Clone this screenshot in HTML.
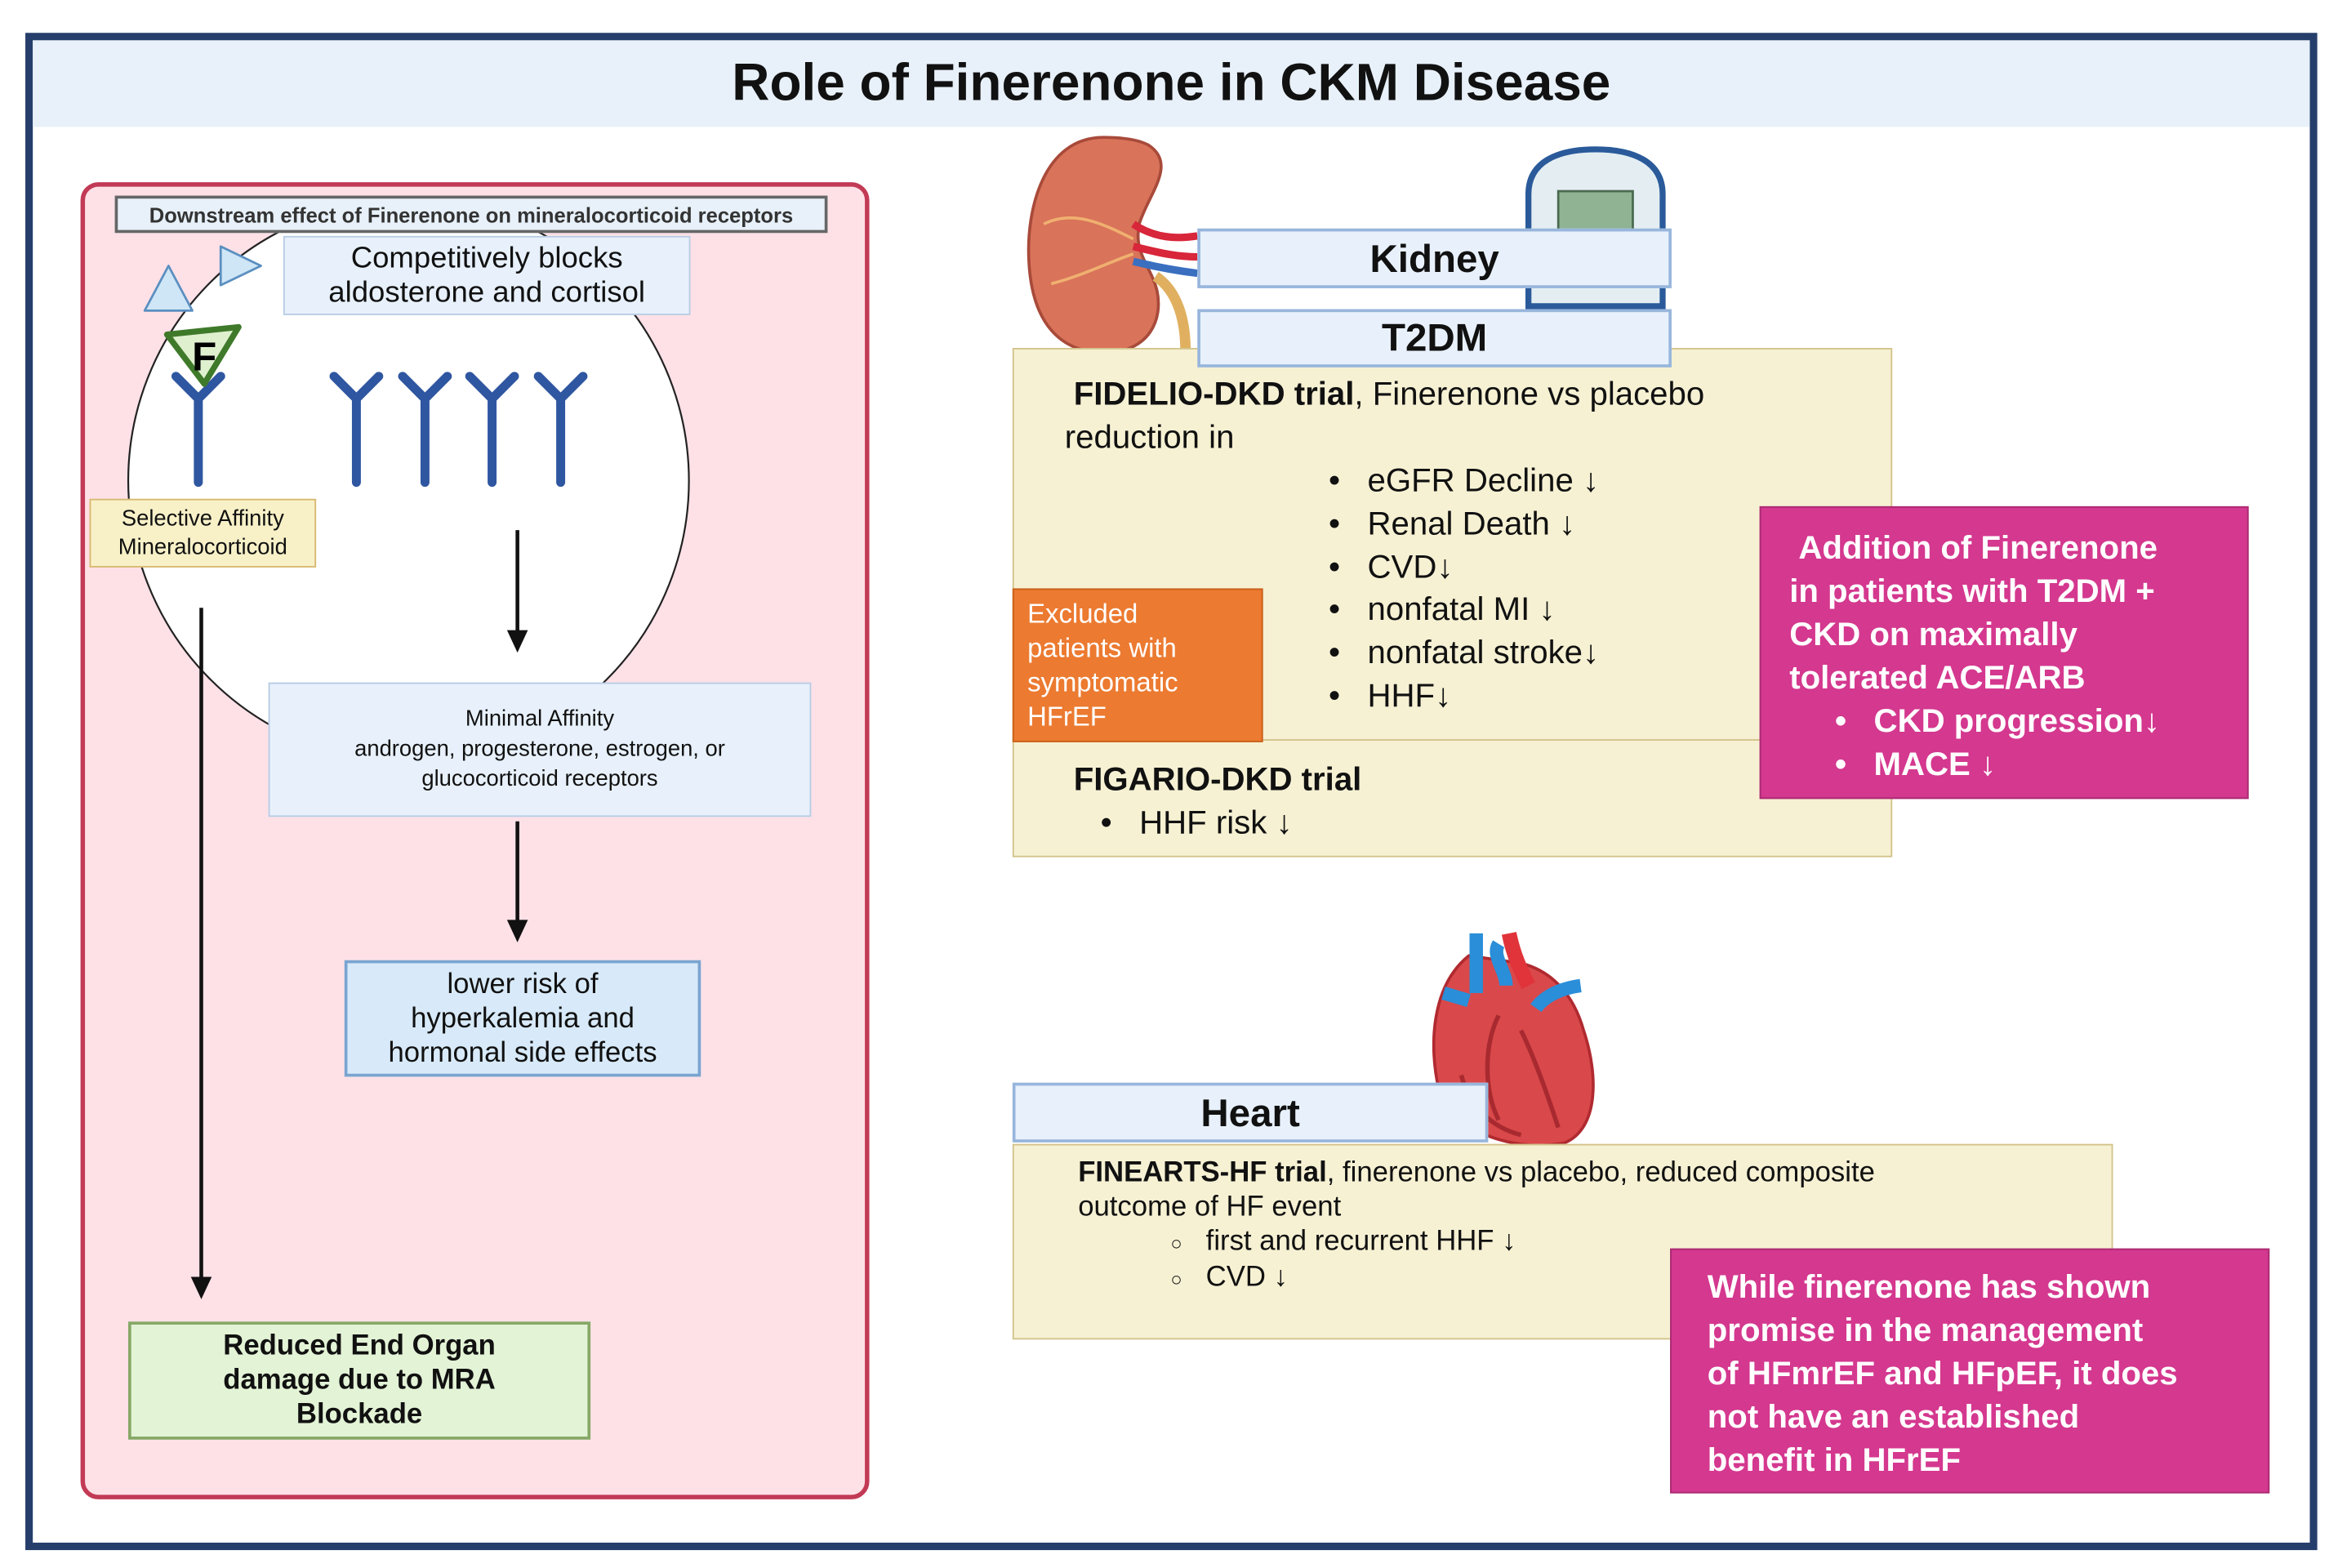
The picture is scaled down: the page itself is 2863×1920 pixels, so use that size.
<!DOCTYPE html>
<html><head><meta charset="utf-8"><style>
html,body{margin:0;padding:0;background:#fff;}
body{width:2863px;height:1920px;overflow:hidden;position:relative;}
#s{position:absolute;left:0;top:0;width:1568px;height:1050px;transform:scale(1.826,1.8286);transform-origin:0 0;font-family:"Liberation Sans",sans-serif;color:#111;}
.a{position:absolute;box-sizing:border-box;}
.c{display:flex;align-items:center;justify-content:center;text-align:center;}
.t{white-space:nowrap;position:absolute;}
</style></head><body><div id="s">
<div class="a" style="left:17px;top:22px;width:1537px;height:1016px;border:5px solid #263e6b;background:#fff"></div>
<div class="a c" style="left:22px;top:27px;width:1527px;height:58px;background:#e8f1fa;font-weight:bold;font-size:35px">Role of Finerenone in CKM Disease</div>

<div class="a" style="left:54px;top:122px;width:529px;height:882px;background:#fde1e7;border:3px solid #c23a55;border-radius:12px"></div>
<svg class="a" style="left:0;top:0" width="1568" height="1050">
<circle cx="274" cy="322" r="188" fill="#fff" stroke="#222" stroke-width="1.2"/>
<polygon points="113,178 97,208 129,208" fill="#cfe6f7" stroke="#5b8fc0" stroke-width="1.5" stroke-linejoin="round"/>
<polygon points="148,165 148,191 175,178" fill="#cfe6f7" stroke="#5b8fc0" stroke-width="1.5" stroke-linejoin="round"/>
<g stroke="#2f56a0" stroke-width="6" fill="none" stroke-linecap="round" stroke-linejoin="round">
<path d="M118,252 L133,267 L148,252 M133,267 V323"/>
<path d="M224,252 L239,267 L254,252 M239,267 V323"/>
<path d="M270,252 L285,267 L300,252 M285,267 V323"/>
<path d="M315,252 L330,267 L345,252 M330,267 V323"/>
<path d="M361,252 L376,267 L391,252 M376,267 V323"/>
</g>
<polygon points="112,224 160,219 137,257" fill="#dff0cf" stroke="#3f7a2a" stroke-width="4" stroke-linejoin="round"/>
<text x="137" y="248" font-size="27" font-weight="bold" text-anchor="middle" font-family="Liberation Sans">F</text>
<g stroke="#111" stroke-width="2.5"><line x1="347" y1="355" x2="347" y2="425"/><line x1="347" y1="550" x2="347" y2="618"/><line x1="135" y1="407" x2="135" y2="858"/></g>
<g fill="#111"><polygon points="340,422 354,422 347,437"/><polygon points="340,616 354,616 347,631"/><polygon points="128,855 142,855 135,870"/></g>
</svg>
<div class="a c" style="left:77px;top:131px;width:478px;height:25px;background:#e8f1fa;border:2px solid #666;font-size:14px;font-weight:bold;color:#333">Downstream effect of Finerenone on mineralocorticoid receptors</div>
<div class="a c" style="left:190px;top:158px;width:273px;height:53px;background:#e8f1fb;border:1.5px solid #b8cce4;font-size:20px;line-height:23px">Competitively blocks<br>aldosterone and cortisol</div>
<div class="a c" style="left:60px;top:334px;width:152px;height:46px;background:#f8f1c8;border:1.5px solid #d8b870;font-size:15px;line-height:19px">Selective Affinity<br>Mineralocorticoid</div>
<div class="a c" style="left:180px;top:457px;width:364px;height:90px;background:#e8f1fb;border:1.5px solid #b8cce4;font-size:15px;line-height:20px">Minimal Affinity<br>androgen, progesterone, estrogen, or<br>glucocorticoid receptors</div>
<div class="a c" style="left:231px;top:643px;width:239px;height:78px;background:#d8eaf9;border:2px solid #7aa4d0;font-size:19px;line-height:23px">lower risk of<br>hyperkalemia and<br>hormonal side effects</div>
<div class="a c" style="left:86px;top:885px;width:310px;height:79px;background:#e3f3d6;border:2px solid #86a866;font-size:19px;line-height:23px;font-weight:bold">Reduced End Organ<br>damage due to MRA<br>Blockade</div>

<svg class="a" style="left:0;top:0" width="1568" height="1050">
<path d="M740,92 C700,92 688,140 690,175 C692,215 710,238 745,236 C770,234 780,215 776,195 C772,178 760,170 764,150 C770,130 790,110 770,97 C762,93 750,92 740,92Z" fill="#d9735a" stroke="#a84a3a" stroke-width="2"/>
<path d="M700,150 C720,140 740,150 760,160 M705,190 C725,185 745,175 760,170" stroke="#f0b070" stroke-width="2" fill="none"/>
<path d="M760,150 C775,160 790,160 803,158 M760,165 C780,170 790,172 803,172" stroke="#d8263a" stroke-width="5" fill="none"/>
<path d="M760,175 C780,180 795,182 803,183" stroke="#3a6fc0" stroke-width="5" fill="none"/>
<path d="M775,185 C790,195 795,215 795,235" stroke="#e0b060" stroke-width="7" fill="none"/>
<path d="M1025,205 V130 C1025,108 1045,100 1070,100 C1095,100 1115,108 1115,130 V205Z" fill="#e4eef2" stroke="#2a5a9a" stroke-width="4"/>
<rect x="1045" y="128" width="50" height="28" fill="#8fb393" stroke="#4a6a50" stroke-width="1.5"/>
<path d="M985,640 C960,660 958,700 965,730 C975,760 1020,772 1050,765 C1072,755 1072,720 1062,690 C1055,665 1040,650 1020,645 Z" fill="#d9484a" stroke="#b02a30" stroke-width="2"/>
<path d="M990,625 V665 M1005,632 C1000,640 1010,650 1010,660" stroke="#2a8ed8" stroke-width="9" fill="none"/>
<path d="M1012,625 C1015,640 1020,650 1025,660" stroke="#e0343a" stroke-width="10" fill="none"/>
<path d="M1060,660 C1045,662 1035,668 1030,675 M968,665 L985,670" stroke="#2a8ed8" stroke-width="9" fill="none"/>
<path d="M980,720 C985,740 1000,755 1020,760 M1020,690 C1030,710 1040,740 1045,755 M1005,680 C995,700 995,730 1005,750" stroke="#a82a30" stroke-width="3" fill="none"/>
</svg>

<div class="a" style="left:679px;top:233px;width:590px;height:263px;background:#f6f1d3;border:1.5px solid #d3c38a"></div>
<div class="a" style="left:679px;top:495px;width:590px;height:79px;background:#f6f1d3;border:1.5px solid #d3c38a"></div>
<div class="a c" style="left:803px;top:153px;width:318px;height:40px;background:#e8f1fb;border:2.5px solid #98b6dc;font-size:26px;font-weight:bold">Kidney</div>
<div class="a c" style="left:803px;top:207px;width:318px;height:39px;background:#e8f1fb;border:2.5px solid #98b6dc;font-size:26px;font-weight:bold">T2DM</div>
<div class="t" style="left:720px;top:251px;font-size:22px"><b>FIDELIO-DKD trial</b>, Finerenone vs placebo</div>
<div class="t" style="left:714px;top:280px;font-size:22px">reduction in</div>
<div class="t" style="left:891px;top:308px;font-size:22px;line-height:28.8px">•&nbsp;&nbsp; eGFR Decline ↓<br>•&nbsp;&nbsp; Renal Death ↓<br>•&nbsp;&nbsp; CVD↓<br>•&nbsp;&nbsp; nonfatal MI ↓<br>•&nbsp;&nbsp; nonfatal stroke↓<br>•&nbsp;&nbsp; HHF↓</div>
<div class="a" style="left:679px;top:394px;width:168px;height:103px;background:#ec7a30;border:1px solid #c8601a;color:#fff;font-size:18px;line-height:23px;padding:5px 0 0 9px">Excluded<br>patients with<br>symptomatic<br>HFrEF</div>
<div class="t" style="left:720px;top:509px;font-size:22px;font-weight:bold">FIGARIO-DKD trial</div>
<div class="t" style="left:738px;top:538px;font-size:22px">•&nbsp;&nbsp; HHF risk ↓</div>
<div class="a" style="left:1180px;top:339px;width:328px;height:196px;background:#d4388f;border:1px solid #a82a70;color:#fff;font-size:22px;font-weight:bold;line-height:29px;padding:12px 0 0 19px">&nbsp;Addition of Finerenone<br>in patients with T2DM +<br>CKD on maximally<br>tolerated ACE/ARB<br>&nbsp;&nbsp;&nbsp;&nbsp;&nbsp;•&nbsp;&nbsp; CKD progression↓<br>&nbsp;&nbsp;&nbsp;&nbsp;&nbsp;•&nbsp;&nbsp; MACE ↓</div>

<div class="a" style="left:679px;top:766px;width:738px;height:131px;background:#f6f1d3;border:1.5px solid #d3c38a"></div>
<div class="a c" style="left:679px;top:725px;width:319px;height:40px;background:#e8f1fb;border:2.5px solid #98b6dc;font-size:26px;font-weight:bold">Heart</div>
<div class="t" style="left:723px;top:774px;font-size:19px;line-height:23px"><b>FINEARTS-HF trial</b>, finerenone vs placebo, reduced composite<br>outcome of HF event</div>
<div class="t" style="left:785px;top:820px;font-size:19px;line-height:23px"><span style="font-size:13px">○</span>&nbsp;&nbsp; first and recurrent HHF ↓<br><span style="font-size:13px">○</span>&nbsp;&nbsp; CVD ↓</div>
<div class="a" style="left:1120px;top:836px;width:402px;height:164px;background:#d4388f;border:1px solid #a82a70;color:#fff;font-size:22px;font-weight:bold;line-height:29px;padding:10px 0 0 24px">While finerenone has shown<br>promise in the management<br>of HFmrEF and HFpEF, it does<br>not have an established<br>benefit in HFrEF</div>
</div></body></html>
